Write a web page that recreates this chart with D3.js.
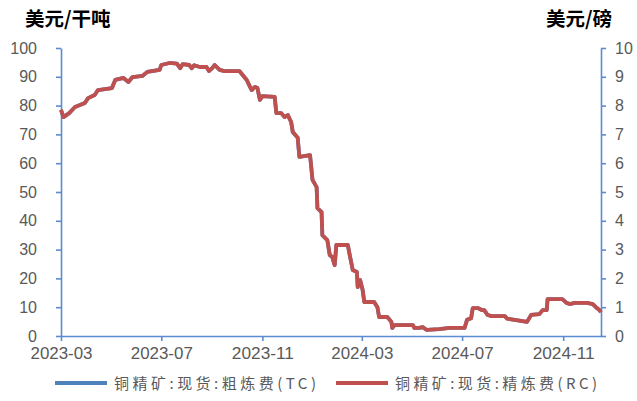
<!DOCTYPE html>
<html>
<head>
<meta charset="utf-8">
<script src="https://cdn.jsdelivr.net/npm/d3@7/dist/d3.min.js"></script>
<style>
  html, body { margin: 0; padding: 0; background: #ffffff; }
  svg { display: block; }
</style>
</head>
<body>
<svg id="chart" width="637" height="401"></svg>
<script>
// Copper concentrate spot treatment charge (TC, USD/dmt) and refining charge (RC, USc/lb)
const dates = [
  "2023-03-01","2023-03-04","2023-03-11","2023-03-18","2023-03-24","2023-03-30",
  "2023-04-03","2023-04-11","2023-04-15","2023-05-02","2023-05-06","2023-05-16",
  "2023-05-22","2023-05-27","2023-06-08","2023-06-14","2023-06-29","2023-07-01",
  "2023-07-11","2023-07-20","2023-07-24","2023-07-27","2023-08-04","2023-08-07",
  "2023-08-10","2023-08-17","2023-08-25","2023-08-28","2023-09-01","2023-09-04",
  "2023-09-10","2023-09-16","2023-10-04","2023-10-08","2023-10-13","2023-10-17",
  "2023-10-19","2023-10-23","2023-10-26","2023-10-29","2023-11-01","2023-11-16",
  "2023-11-18","2023-11-24","2023-11-28","2023-12-02","2023-12-06","2023-12-08",
  "2023-12-14","2023-12-16","2023-12-29","2024-01-01","2024-01-06","2024-01-07",
  "2024-01-12","2024-01-13","2024-01-19","2024-01-22","2024-01-25","2024-01-28",
  "2024-01-30","2024-02-13","2024-02-15","2024-02-19","2024-02-24","2024-02-25",
  "2024-02-28","2024-03-02","2024-03-04","2024-03-16","2024-03-20","2024-03-22",
  "2024-04-01","2024-04-06","2024-04-07","2024-04-10","2024-05-02","2024-05-04",
  "2024-05-10","2024-05-14","2024-05-19","2024-06-03","2024-06-16","2024-07-04",
  "2024-07-07","2024-07-12","2024-07-14","2024-07-20","2024-07-25","2024-07-28",
  "2024-08-01","2024-08-06","2024-08-22","2024-08-25","2024-08-28","2024-09-03",
  "2024-09-18","2024-09-23","2024-10-03","2024-10-07","2024-10-12","2024-10-13",
  "2024-10-31","2024-11-05","2024-11-09","2024-11-15","2024-11-30","2024-12-07",
  "2024-12-12","2024-12-15","2024-12-17"
];

// TC, USD per dry tonne (left axis)
const tcValues = [
  78.5,76.0,77.4,79.5,80.2,80.9,
  82.6,83.7,85.4,86.1,88.9,89.6,
  88.2,89.9,90.3,91.7,92.4,94.1,
  94.8,94.6,93.0,94.4,94.1,93.0,
  94.0,93.4,93.4,92.0,93.0,94.1,
  92.4,92.0,92.0,90.6,88.9,86.5,
  85.4,86.5,86.1,82.0,83.3,83.0,
  77.4,77.4,76.0,76.7,74.3,70.8,
  68.8,62.2,62.8,54.2,51.7,44.4,
  43.0,35.0,33.3,28.1,27.4,24.6,
  31.6,31.6,28.5,22.9,22.2,17.0,
  19.4,16.0,11.8,11.8,10.0,6.6,
  6.6,4.9,2.8,3.8,3.8,2.8,
  2.8,3.1,2.1,2.4,2.8,2.8,
  5.6,6.2,9.7,9.7,9.0,9.0,
  7.3,6.9,6.9,6.0,5.9,5.6,
  4.9,7.3,7.6,9.0,9.0,12.8,
  12.8,11.5,11.1,11.5,11.5,11.1,
  9.7,9.0,8.3
];

// RC, US cents per pound (right axis)
const rcValues = [
  7.85,7.60,7.74,7.95,8.02,8.09,
  8.26,8.37,8.54,8.61,8.89,8.96,
  8.82,8.99,9.03,9.17,9.24,9.41,
  9.48,9.46,9.30,9.44,9.41,9.30,
  9.40,9.34,9.34,9.20,9.30,9.41,
  9.24,9.20,9.20,9.06,8.89,8.65,
  8.54,8.65,8.61,8.20,8.33,8.30,
  7.74,7.74,7.60,7.67,7.43,7.08,
  6.88,6.22,6.28,5.42,5.17,4.44,
  4.30,3.50,3.33,2.81,2.74,2.46,
  3.16,3.16,2.85,2.29,2.22,1.70,
  1.94,1.60,1.18,1.18,1.00,0.66,
  0.66,0.49,0.28,0.38,0.38,0.28,
  0.28,0.31,0.21,0.24,0.28,0.28,
  0.56,0.62,0.97,0.97,0.90,0.90,
  0.73,0.69,0.69,0.60,0.59,0.56,
  0.49,0.73,0.76,0.90,0.90,1.28,
  1.28,1.15,1.11,1.15,1.15,1.11,
  0.97,0.90,0.83
];

const xTickLabels = ["2023-03","2023-07","2023-11","2024-03","2024-07","2024-11"];
const leftTicks = [0,10,20,30,40,50,60,70,80,90,100];
const rightTicks = [0,1,2,3,4,5,6,7,8,9,10];
const seriesNames = ["铜精矿:现货:粗炼费(TC)", "铜精矿:现货:精炼费(RC)"];
const seriesColors = ["#4F81BD", "#C0504D"];
const leftUnit = "美元/干吨";
const rightUnit = "美元/磅";

const parse = d3.timeParse("%Y-%m-%d");
const parseMonth = d3.timeParse("%Y-%m");
const axisColor = "#5B8BD0";
const labelColor = "#595959";

const svg = d3.select("#chart");

const plot = { left: 61, right: 601, top: 48, bottom: 336 };

const x = d3.scaleTime()
  .domain([parse("2023-03-01"), parse("2024-12-17")])
  .range([plot.left, plot.right]);
const yL = d3.scaleLinear().domain([0, 100]).range([plot.bottom, plot.top]);
const yR = d3.scaleLinear().domain([0, 10]).range([plot.bottom, plot.top]);

const tcData = dates.map((d, i) => ({ date: parse(d), v: tcValues[i] }));
const rcData = dates.map((d, i) => ({ date: parse(d), v: rcValues[i] }));

function styleAxis(g, fontSize) {
  g.select(".domain").attr("stroke", axisColor).attr("stroke-width", 1.6);
  g.selectAll(".tick line").attr("stroke", axisColor).attr("stroke-width", 1.6);
  g.selectAll(".tick text")
    .attr("fill", labelColor)
    .style("font-family", "'Liberation Sans', Arial, sans-serif")
    .style("font-size", fontSize + "px");
}

// Left axis
const gL = svg.append("g")
  .attr("transform", `translate(${plot.left},0)`)
  .call(d3.axisLeft(yL).tickValues(leftTicks).tickSize(5).tickSizeOuter(0).tickPadding(19));
styleAxis(gL, 16);

// Right axis
const gR = svg.append("g")
  .attr("transform", `translate(${plot.right},0)`)
  .call(d3.axisRight(yR).tickValues(rightTicks).tickSize(5).tickSizeOuter(0).tickPadding(9));
styleAxis(gR, 16);

// Bottom axis
const gX = svg.append("g")
  .attr("transform", `translate(0,${plot.bottom})`)
  .call(d3.axisBottom(x)
    .tickValues(xTickLabels.map(parseMonth))
    .tickFormat(d3.timeFormat("%Y-%m"))
    .tickSize(5).tickSizeOuter(0).tickPadding(7));
styleAxis(gX, 16);
gX.selectAll(".tick text").attr("textLength", 62).attr("lengthAdjust", "spacingAndGlyphs");

// Series lines: TC first, RC drawn over it
const lineL = d3.line().x(d => x(d.date)).y(d => yL(d.v));
const lineR = d3.line().x(d => x(d.date)).y(d => yR(d.v));

svg.append("path")
  .datum(tcData)
  .attr("d", lineL)
  .attr("fill", "none")
  .attr("stroke", seriesColors[0])
  .attr("stroke-width", 3.8)
  .attr("stroke-linejoin", "round");

svg.append("path")
  .datum(rcData)
  .attr("d", lineR)
  .attr("fill", "none")
  .attr("stroke", seriesColors[1])
  .attr("stroke-width", 3.8)
  .attr("stroke-linejoin", "round");

// Unit titles
svg.append("text")
  .attr("x", 25).attr("y", 26)
  .attr("fill", "#000")
  .style("font-family", "'Noto Sans CJK SC', sans-serif")
  .style("font-size", "19.5px")
  .style("font-weight", "bold")
  .text(leftUnit);

svg.append("text")
  .attr("x", 612).attr("y", 26)
  .attr("text-anchor", "end")
  .attr("fill", "#000")
  .style("font-family", "'Noto Sans CJK SC', sans-serif")
  .style("font-size", "19.5px")
  .style("font-weight", "bold")
  .text(rightUnit);

// Legend
const legendItems = [
  { name: seriesNames[0], color: seriesColors[0], x1: 55, x2: 107, tx: 114 },
  { name: seriesNames[1], color: seriesColors[1], x1: 336, x2: 388, tx: 395 }
];
const lg = svg.append("g");
legendItems.forEach(item => {
  lg.append("line")
    .attr("x1", item.x1).attr("x2", item.x2)
    .attr("y1", 383).attr("y2", 383)
    .attr("stroke", item.color)
    .attr("stroke-width", 3.8);
  lg.append("text")
    .attr("x", item.tx).attr("y", 388.5)
    .attr("fill", labelColor)
    .attr("textLength", 202)
    .attr("lengthAdjust", "spacing")
    .style("font-family", "'Noto Sans CJK SC', sans-serif")
    .style("font-size", "15px")
    .text(item.name);
});
</script>
</body>
</html>
